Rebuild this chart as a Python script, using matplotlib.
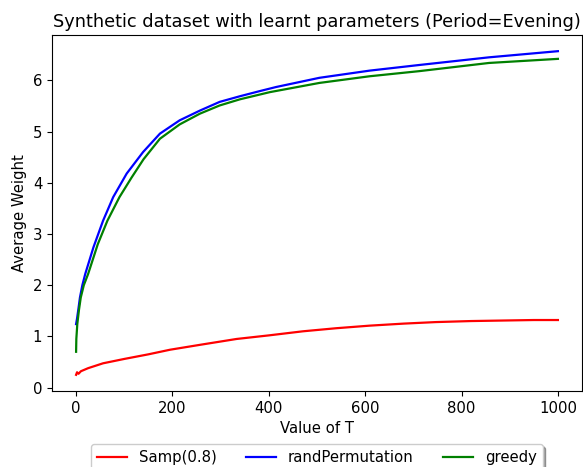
import matplotlib
matplotlib.use('Agg')
import matplotlib.pyplot as plt

# Valori
t_samp = [0, 2, 5, 10, 25, 56, 100, 150, 195, 260, 333, 400, 471, 540, 609, 680, 747, 820, 885, 950, 1000]
w_samp = [0.25, 0.30, 0.27, 0.32, 0.38, 0.475, 0.56, 0.65, 0.74, 0.84, 0.95, 1.02, 1.10, 1.16, 1.21, 1.25,
          1.28, 1.30, 1.31, 1.32, 1.32]

t_rand = [0, 2, 5, 8, 13, 19, 36, 56, 77, 105, 139, 174, 215, 257, 298, 340, 381, 415, 505, 609, 712,
          857, 1000]
w_rand = [1.24, 1.35, 1.55, 1.76, 2.00, 2.22, 2.74, 3.26, 3.72, 4.18, 4.60, 4.96, 5.22, 5.41, 5.58, 5.69,
          5.79, 5.87, 6.05, 6.19, 6.30, 6.45, 6.57]

t_greedy = [0, 0.5, 2.5, 6, 9.7, 16, 25, 45, 65, 90, 115, 140, 174, 215, 257, 298, 340, 402, 505, 609,
            712, 857, 1000]
w_greedy = [0.70, 0.95, 1.24, 1.52, 1.76, 2.00, 2.22, 2.80, 3.26, 3.72, 4.10, 4.46, 4.86, 5.14, 5.35,
            5.51, 5.63, 5.77, 5.95, 6.08, 6.18, 6.34, 6.42]

plt.rcParams['font.size'] = 10.7

fig = plt.figure(figsize=(5.83, 4.67), dpi=100)
ax = fig.add_axes([52 / 583, 1 - 391 / 467, 530 / 583, 356 / 467])

ax.plot(t_samp, w_samp, color='r', linewidth=1.6, label='Samp(0.8)')
ax.plot(t_rand, w_rand, color='b', linewidth=1.6, label='randPermutation')
ax.plot(t_greedy, w_greedy, color='g', linewidth=1.6, label='greedy')

ax.set_title('Synthetic dataset with learnt parameters (Period=Evening)', fontsize=12.8)
ax.set_xlabel('Value of T')
ax.set_ylabel('Average Weight')
ax.set_xticks([0, 200, 400, 600, 800, 1000])
ax.set_yticks([0, 1, 2, 3, 4, 5, 6])

ax.legend(loc='upper center', bbox_to_anchor=(0.5, -0.128), ncol=3, shadow=True, fancybox=True)

fig.savefig('out.png', dpi=100)
